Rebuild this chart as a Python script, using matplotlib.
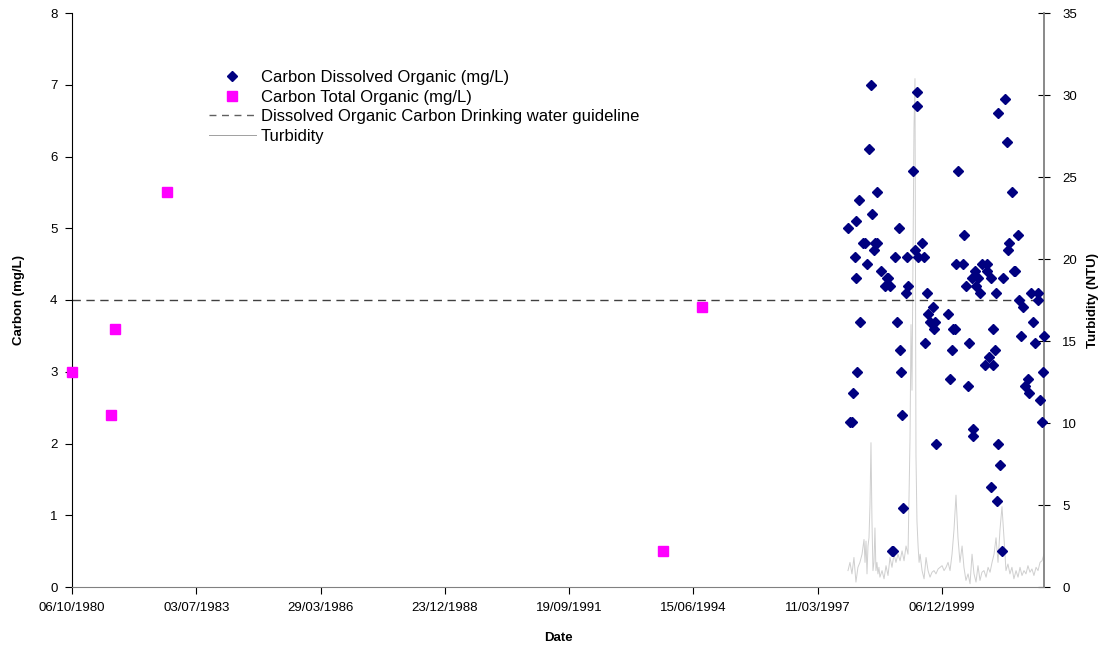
import matplotlib
matplotlib.use("Agg")
import matplotlib.pyplot as plt
from matplotlib.lines import Line2D
import pandas as pd
from datetime import datetime

plt.rcParams['font.family'] = ['Liberation Sans', 'DejaVu Sans']

# ---------------- data (dates as Excel serial day numbers) ----------------
doc_serial = [35743, 35759, 35775, 35783, 35799, 35807, 35807, 35815, 35831, 35839,
              35863, 35880, 35896, 35912, 35928, 35936, 35952, 35960, 35976, 35976,
              36009, 36041, 36057, 36065, 36081, 36097, 36105, 36121, 36137, 36153,
              36162, 36170, 36178, 36186, 36210, 36218, 36226, 36266, 36282, 36298,
              36298, 36307, 36339, 36355, 36363, 36379, 36387, 36403, 36427, 36435,
              36443, 36451, 36548, 36564, 36580, 36588, 36604, 36612, 36628, 36668,
              36676, 36692, 36709, 36717, 36741, 36749, 36749, 36765, 36773, 36789,
              36805, 36821, 36845, 36861, 36861, 36877, 36893, 36893, 36910, 36910,
              36926, 36934, 36942, 36950, 36950, 36966, 36982, 36990, 37006, 37022,
              37030, 37038, 37062, 37078, 37086, 37111, 37119, 37135, 37151, 37167,
              37191, 37199, 37215, 37231, 37247, 37271, 37271, 37287, 37303, 37311,
              37320]
doc_value = [5.0, 2.3, 2.3, 2.7, 4.6, 4.3, 5.1, 3.0, 5.4, 3.7,
             4.8, 4.8, 4.5, 6.1, 7.0, 5.2, 4.7, 4.8, 5.5, 4.8,
             4.4, 4.2, 4.3, 4.3, 4.2, 0.5, 0.5, 4.6, 3.7, 5.0,
             3.3, 3.0, 2.4, 1.1, 4.1, 4.6, 4.2, 5.8, 4.7, 6.9,
             6.7, 4.6, 4.8, 4.6, 3.4, 4.1, 3.8, 3.7, 3.9, 3.6,
             3.7, 2.0, 3.8, 2.9, 3.3, 3.6, 3.6, 4.5, 5.8, 4.5,
             4.9, 4.2, 2.8, 3.4, 4.3, 2.2, 2.1, 4.4, 4.2, 4.3,
             4.1, 4.5, 3.1, 4.5, 4.4, 3.2, 1.4, 4.3, 3.6, 3.1,
             3.3, 4.1, 1.2, 6.6, 2.0, 1.7, 0.5, 4.3, 6.8, 6.2,
             4.7, 4.8, 5.5, 4.4, 4.4, 4.9, 4.0, 3.5, 3.9, 2.8,
             2.9, 2.7, 4.1, 3.7, 3.4, 4.1, 4.0, 2.6, 2.3, 3.0,
             3.5]

toc_serial = [29500, 29814, 29846, 30264, 34255, 34569]
toc_value = [3.0, 2.4, 3.6, 5.5, 0.5, 3.9]

guideline_value = 4.0

turb_serial = [35743, 35759, 35775, 35791, 35807, 35823, 35839, 35856, 35872, 35880,
               35888, 35896, 35904, 35912, 35920, 35928, 35936, 35944, 35952, 35960,
               35968, 35976, 35984, 35992, 36000, 36017, 36033, 36049, 36065, 36081,
               36097, 36113, 36129, 36145, 36162, 36178, 36194, 36210, 36226, 36242,
               36250, 36258, 36266, 36274, 36282, 36290, 36298, 36307, 36315, 36323,
               36339, 36355, 36371, 36387, 36403, 36419, 36435, 36451, 36468, 36484,
               36500, 36516, 36532, 36548, 36564, 36580, 36596, 36612, 36628, 36644,
               36661, 36676, 36692, 36709, 36725, 36741, 36757, 36773, 36789, 36805,
               36821, 36837, 36854, 36870, 36886, 36902, 36918, 36934, 36950, 36966,
               36982, 36998, 37014, 37030, 37046, 37062, 37078, 37095, 37111, 37127,
               37143, 37159, 37175, 37191, 37207, 37223, 37239, 37256, 37272, 37288,
               37304, 37320]
turb_value = [1.0, 1.5, 0.8, 1.8, 0.3, 1.2, 1.5, 2.0, 2.9, 1.5,
              2.8, 0.8, 2.5, 3.0, 5.0, 8.8, 4.0, 1.0, 1.5, 3.6,
              1.0, 1.5, 0.8, 1.2, 0.6, 1.0, 0.5, 1.3, 0.7, 1.8,
              1.2, 2.0, 1.5, 2.0, 1.6, 2.2, 1.6, 2.5, 2.0, 9.0,
              16.0, 12.0, 20.0, 28.0, 31.0, 8.0, 4.0, 2.5, 1.5, 2.0,
              1.0, 0.5, 1.8, 1.0, 0.6, 0.9, 1.0, 0.8, 1.1, 1.2,
              1.3, 1.0, 1.2, 1.5, 1.0, 2.0, 3.5, 5.6, 3.0, 1.5,
              2.5, 1.2, 0.4, 0.8, 0.2, 2.0, 0.8, 0.3, 1.3, 0.4,
              0.9, 1.0, 0.6, 1.2, 0.9, 1.5, 2.0, 3.0, 1.5, 3.5,
              4.9, 3.0, 1.0, 1.4, 0.8, 1.2, 0.5, 1.0, 0.6, 1.2,
              0.7, 1.0, 0.8, 1.3, 0.9, 1.1, 0.7, 1.2, 1.0, 1.5,
              1.6, 2.0]

x_tick_labels = ["06/10/1980", "03/07/1983", "29/03/1986", "23/12/1988",
                 "19/09/1991", "15/06/1994", "11/03/1997", "06/12/1999"]
x_end_serial = 37320

labels = ["Carbon Dissolved Organic (mg/L)", "Carbon Total Organic (mg/L)",
          "Dissolved Organic Carbon Drinking water guideline", "Turbidity"]


def to_dt(s):
    return pd.to_datetime(pd.Series(s), unit='D', origin='1899-12-30')


doc_dates = to_dt(doc_serial)
toc_dates = to_dt(toc_serial)
turb_dates = to_dt(turb_serial)
tick_dates = [datetime.strptime(t, "%d/%m/%Y") for t in x_tick_labels]
x_end = to_dt([x_end_serial])[0]

# ---------------- figure ----------------
fig = plt.figure(figsize=(11.04, 6.47), dpi=100)
ax = fig.add_axes([72 / 1104, 1 - 587 / 647, (1044 - 72) / 1104, (587 - 13) / 647])
ax2 = ax.twinx()

ax2.plot(turb_dates, turb_value, color='#cfcfcf', lw=0.7, zorder=1)
ax.axhline(guideline_value, color='#404040', lw=1.0, dashes=(6, 4), zorder=2)
ax.plot(toc_dates, toc_value, linestyle='none', marker='s', ms=7,
        color='#ff00ff', mec='#ff00ff', zorder=4, clip_on=False)
ax.plot(doc_dates, doc_value, linestyle='none', marker='D', ms=5.2,
        color='#000080', mec='#000080', zorder=5, clip_on=False)

ax.set_zorder(ax2.get_zorder() + 1)
ax.patch.set_visible(False)

ax.set_xlim(tick_dates[0], x_end)
ax.set_ylim(0, 8)
ax2.set_ylim(0, 35)
ax.set_yticks(range(0, 9))
ax2.set_yticks(range(0, 36, 5))
ax.set_xticks(tick_dates)
ax.set_xticklabels(x_tick_labels)

for a in (ax, ax2):
    a.spines['top'].set_visible(False)
ax.spines['right'].set_visible(False)
ax.spines['left'].set_color('black')
ax.spines['bottom'].set_color('#808080')
ax2.spines['left'].set_visible(False)
ax2.spines['bottom'].set_visible(False)
ax2.spines['right'].set_color('#808080')
ax2.spines['right'].set_linewidth(1.3)

ax.tick_params(axis='y', direction='out', length=5, labelsize=9.5, color='black', pad=5.5)
ax.tick_params(axis='x', direction='out', length=5, labelsize=9.5, color='black', pad=5.5)
ax2.tick_params(axis='y', direction='inout', length=8, labelsize=9.5, color='black', pad=9)

ax.set_xlabel("Date", fontsize=9.5, fontweight='bold', labelpad=13)
ax.set_ylabel("Carbon (mg/L)", fontsize=9.5, fontweight='bold', labelpad=18)
ax2.set_ylabel("Turbidity (NTU)", fontsize=9.5, fontweight='bold', labelpad=7)

handles = [
    Line2D([], [], linestyle='none', marker='D', ms=5.2, color='#000080'),
    Line2D([], [], linestyle='none', marker='s', ms=7, color='#ff00ff'),
    Line2D([], [], color='#606060', lw=1.0, dashes=(5, 4)),
    Line2D([], [], color='#a0a0a0', lw=0.7),
]
ax.legend(handles, labels, loc='upper left', bbox_to_anchor=(0.134, 0.912),
          frameon=False, fontsize=12, handlelength=2.8, handletextpad=0.3,
          labelspacing=0.27, borderaxespad=0, borderpad=0.4)

fig.savefig("out.png", dpi=100)
